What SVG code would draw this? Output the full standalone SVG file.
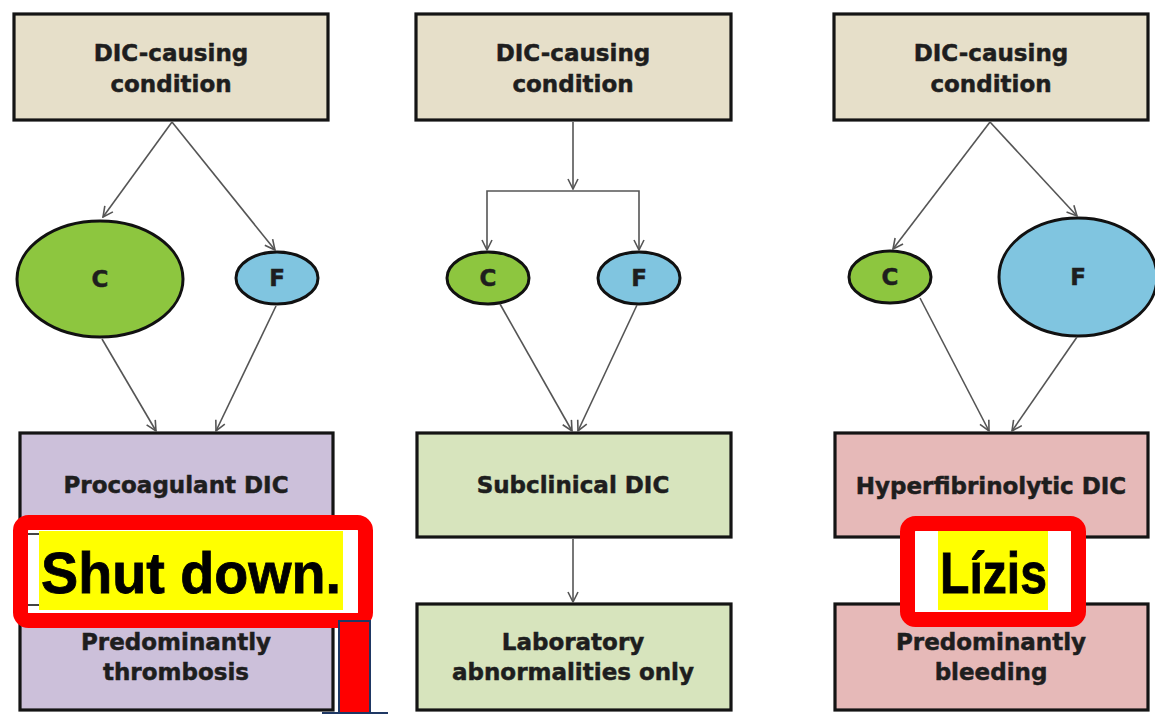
<svg xmlns="http://www.w3.org/2000/svg" width="1155" height="714" viewBox="0 0 1155 714">
  <style>
    .box { stroke: #141414; stroke-width: 3.2; }
    .cause { fill: #e6dfc9; }
    .pro { fill: #ccc0da; }
    .sub { fill: #d7e4bd; }
    .hyp { fill: #e6b9b8; }
    .oval { stroke: #111; stroke-width: 3; }
    .c { fill: #8dc63f; }
    .f { fill: #80c5e0; }
    .lbl { font-family: "DejaVu Sans", "Liberation Sans", sans-serif; font-weight: bold; font-size: 23px; fill: #1e1e1e; stroke: #1e1e1e; stroke-width: 0.5; text-anchor: middle; }
    .big { font-family: "Liberation Sans", Arial, sans-serif; font-weight: bold; font-size: 58px; fill: #000; stroke: #000; stroke-width: 0.8; }
    .wire { fill: none; stroke: #555; stroke-width: 1.6; }
    .frame { fill: #fff; stroke: #ff0000; stroke-width: 15; }
  </style>
  <defs>
    <marker id="arrow" viewBox="0 0 12 12" markerWidth="12" markerHeight="12" refX="11" refY="6" orient="auto" markerUnits="userSpaceOnUse">
      <path d="M1,1 L11,6 L1,11" fill="none" stroke="#555" stroke-width="1.6"/>
    </marker>
  </defs>
  <rect width="1155" height="714" fill="#fff"/>

  <!-- Left column: procoagulant -->
  <g id="cause-left">
    <rect class="box cause" x="14" y="14" width="314" height="106"/>
    <text class="lbl" x="171" y="61">DIC-causing</text>
    <text class="lbl" x="171" y="92">condition</text>
  </g>
  <g id="c-left">
    <ellipse class="oval c" cx="100" cy="279" rx="83" ry="58"/>
    <text class="lbl" x="100" y="287">C</text>
  </g>
  <g id="f-left">
    <ellipse class="oval f" cx="277" cy="278" rx="41" ry="26"/>
    <text class="lbl" x="277" y="286">F</text>
  </g>
  <g id="procoagulant">
    <rect class="box pro" x="20" y="433" width="313" height="104"/>
    <text class="lbl" x="176" y="493">Procoagulant DIC</text>
  </g>
  <g id="thrombosis">
    <rect class="box pro" x="20" y="604" width="313" height="106"/>
    <text class="lbl" x="176" y="650">Predominantly</text>
    <text class="lbl" x="176" y="680">thrombosis</text>
  </g>

  <!-- Middle column: subclinical -->
  <g id="cause-mid">
    <rect class="box cause" x="416" y="14" width="315" height="106"/>
    <text class="lbl" x="573" y="61">DIC-causing</text>
    <text class="lbl" x="573" y="92">condition</text>
  </g>
  <g id="c-mid">
    <ellipse class="oval c" cx="488" cy="278" rx="41" ry="26"/>
    <text class="lbl" x="488" y="286">C</text>
  </g>
  <g id="f-mid">
    <ellipse class="oval f" cx="639" cy="278" rx="41" ry="26"/>
    <text class="lbl" x="639" y="286">F</text>
  </g>
  <g id="subclinical">
    <rect class="box sub" x="417" y="433" width="314" height="104"/>
    <text class="lbl" x="573" y="493">Subclinical DIC</text>
  </g>
  <g id="laboratory">
    <rect class="box sub" x="417" y="604" width="314" height="106"/>
    <text class="lbl" x="573" y="650">Laboratory</text>
    <text class="lbl" x="573" y="680">abnormalities only</text>
  </g>

  <!-- Right column: hyperfibrinolytic -->
  <g id="cause-right">
    <rect class="box cause" x="834" y="14" width="314" height="106"/>
    <text class="lbl" x="991" y="61">DIC-causing</text>
    <text class="lbl" x="991" y="92">condition</text>
  </g>
  <g id="c-right">
    <ellipse class="oval c" cx="890" cy="277" rx="41" ry="26"/>
    <text class="lbl" x="890" y="285">C</text>
  </g>
  <g id="f-right">
    <ellipse class="oval f" cx="1078" cy="277" rx="79" ry="59"/>
    <text class="lbl" x="1078" y="285">F</text>
  </g>
  <g id="hyperfibrinolytic">
    <rect class="box hyp" x="835" y="433" width="313" height="104"/>
    <text class="lbl" x="991" y="494">Hyperfibrinolytic DIC</text>
  </g>
  <g id="bleeding">
    <rect class="box hyp" x="835" y="604" width="313" height="106"/>
    <text class="lbl" x="991" y="650">Predominantly</text>
    <text class="lbl" x="991" y="680">bleeding</text>
  </g>

  <!-- Connectors -->
  <g id="connectors">
    <path class="wire" d="M172,122 L103,217" marker-end="url(#arrow)"/>
    <path class="wire" d="M172,122 L275,250" marker-end="url(#arrow)"/>
    <path class="wire" d="M102,339 L156,431" marker-end="url(#arrow)"/>
    <path class="wire" d="M276,306 L216,431" marker-end="url(#arrow)"/>

    <path class="wire" d="M573,122 V189" marker-end="url(#arrow)"/>
    <path class="wire" d="M573,191 H487 V250" marker-end="url(#arrow)"/>
    <path class="wire" d="M573,191 H639 V250" marker-end="url(#arrow)"/>
    <path class="wire" d="M500,304 L572,431" marker-end="url(#arrow)"/>
    <path class="wire" d="M637,305 L578,431" marker-end="url(#arrow)"/>
    <path class="wire" d="M573,539 V602" marker-end="url(#arrow)"/>

    <path class="wire" d="M990,122 L893,249" marker-end="url(#arrow)"/>
    <path class="wire" d="M990,122 L1077,216" marker-end="url(#arrow)"/>
    <path class="wire" d="M920,298 L989,431" marker-end="url(#arrow)"/>
    <path class="wire" d="M1077,337 L1012,431" marker-end="url(#arrow)"/>
  </g>

  <!-- Callout labels -->
  <g id="note-shutdown">
    <rect class="frame" x="20.5" y="522.5" width="345" height="98" rx="8"/>
    <line x1="28" y1="534" x2="40" y2="534" stroke="#444" stroke-width="2"/>
    <line x1="28" y1="605" x2="40" y2="605" stroke="#444" stroke-width="2"/>
    <rect x="39" y="531" width="304" height="79" fill="#ffff00"/>
    <text class="big" x="41" y="593" textLength="300" lengthAdjust="spacingAndGlyphs">Shut down.</text>
  </g>
  <g id="note-lysis">
    <rect class="frame" x="907.5" y="523.5" width="171" height="96" rx="8"/>
    <rect x="938" y="531" width="110" height="79" fill="#ffff00"/>
    <text class="big" x="940" y="593" textLength="107" lengthAdjust="spacingAndGlyphs">Lízis</text>
  </g>
  <g id="red-bar">
    <rect x="339" y="621" width="31" height="95" fill="#ff0000" stroke="#1f3864" stroke-width="2"/>
    <line x1="322" y1="713" x2="388" y2="713" stroke="#1f3864" stroke-width="2"/>
  </g>
</svg>
